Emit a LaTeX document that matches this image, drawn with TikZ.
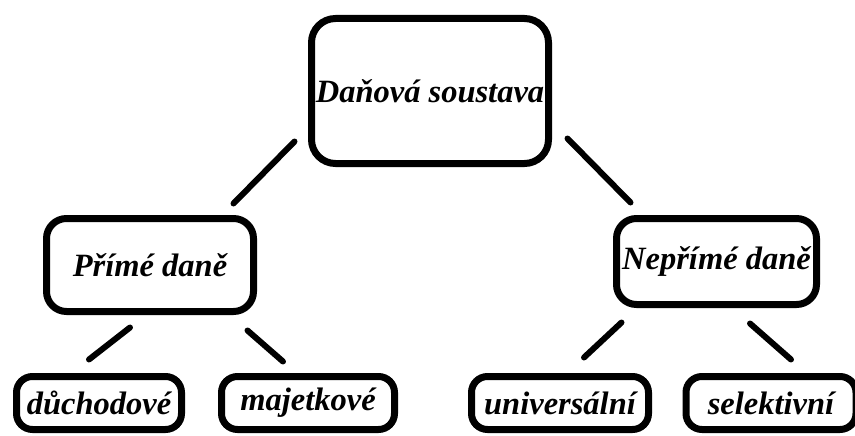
\documentclass[tikz,border=0pt]{standalone}
\usepackage{fontspec}
\setmainfont{Liberation Serif}
\usetikzlibrary{positioning}
\tikzset{
    taxbox/.style={draw, line width=7pt, rounded corners=20pt, inner sep=0pt,
      font=\fontsize{32.5}{32.5}\selectfont\bfseries\itshape},
    link/.style={line width=6pt, line cap=round}
}
\begin{document}
\begin{tikzpicture}[x=1pt, y=-1pt]
    \useasboundingbox (0,0) rectangle (855,436);
    % top
    \node[taxbox, rounded corners=24pt, minimum width=237pt, minimum height=145pt] (soustava) at (430,91) {Daňová soustava};
    % middle row
    \node[taxbox, minimum width=207pt, minimum height=93pt] (prime) at (150,265) {Přímé daně};
    \node[taxbox, minimum width=200pt, minimum height=86pt] (neprime) at (716.5,261.5) {Nepřímé daně};
    % bottom row
    \node[taxbox, rounded corners=16pt, minimum width=165pt, minimum height=53pt] (duchod) at (99,403) {důchodové};
    \node[taxbox, rounded corners=16pt, minimum width=173pt, minimum height=53pt] (majetek) at (308,403) {majetkové};
    \node[taxbox, rounded corners=16pt, minimum width=177pt, minimum height=53pt] (univ) at (560,403) {universální};
    \node[taxbox, rounded corners=16pt, minimum width=170pt, minimum height=53pt] (selekt) at (771,403) {selektivní};
    % links
    \draw[link] ([shift={(-13.5,-25.5)}]soustava.south west) -- ([shift={(-23.5,-11.5)}]prime.north east);
    \draw[link] ([shift={(15.5,-28.5)}]soustava.south east) -- ([shift={(17.5,-12.5)}]neprime.north west);
    \draw[link] ([shift={(-20,12.5)}]prime.south) -- ([shift={(-10,-13.5)}]duchod.north);
    \draw[link] ([shift={(-9.5,15.5)}]prime.south east) -- ([shift={(-25,-11.5)}]majetek.north);
    \draw[link] ([shift={(8.5,14.5)}]neprime.south west) -- ([shift={(24,-15.5)}]univ.north);
    \draw[link] ([shift={(33.5,15.5)}]neprime.south) -- ([shift={(20,-13.5)}]selekt.north);
\end{tikzpicture}
\end{document}
